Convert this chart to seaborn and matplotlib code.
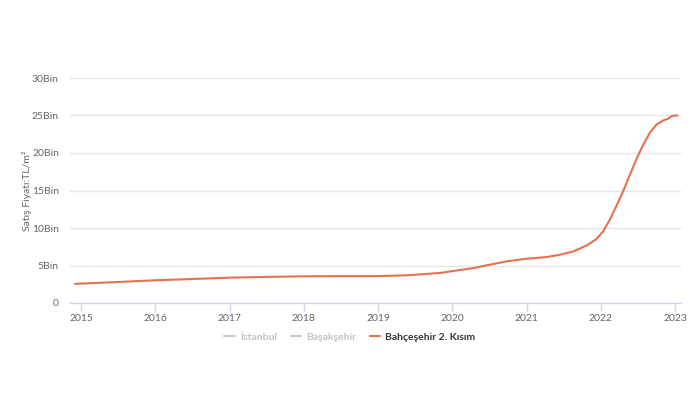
import matplotlib
matplotlib.use("Agg")
import matplotlib.pyplot as plt
from matplotlib.lines import Line2D
from matplotlib.ticker import FuncFormatter, FixedLocator
import seaborn as sns
import pandas as pd

# ---- data ----
years = [2014.92, 2015.5, 2016.0, 2016.5, 2017.0, 2017.5, 2018.0, 2018.5, 2019.0,
         2019.4, 2019.83, 2020.0, 2020.28, 2020.5, 2020.73, 2021.0, 2021.27, 2021.45,
         2021.63, 2021.81, 2021.94, 2022.03, 2022.12, 2022.21, 2022.30, 2022.39,
         2022.48, 2022.57, 2022.66, 2022.75, 2022.84, 2022.905, 2022.95, 2023.0, 2023.03]
prices = [2550, 2800, 3030, 3200, 3380, 3480, 3560, 3580, 3580,
          3700, 4000, 4250, 4650, 5100, 5550, 5900, 6130, 6440,
          6880, 7680, 8530, 9550, 11100, 12970, 14900, 17100,
          19200, 21100, 22700, 23800, 24350, 24570, 24900, 25000, 25000]
series_names = ["İstanbul", "Başakşehir", "Bahçeşehir 2. Kısım"]
x_ticks = [2015, 2016, 2017, 2018, 2019, 2020, 2021, 2022, 2023]
y_ticks = [0, 5000, 10000, 15000, 20000, 25000, 30000]
y_tick_labels = ["0", "5Bin", "10Bin", "15Bin", "20Bin", "25Bin", "30Bin"]
y_label = "Satış Fiyatı:TL/m²"

df = pd.DataFrame({"year": years, "price": prices})

sns.set_theme(style="white")
plt.rcParams["font.family"] = ["Lato", "DejaVu Sans"]

fig = plt.figure(figsize=(7, 4), dpi=100)
ax = fig.add_axes([0.1, 0.2425, 0.873, 0.5625])

line_color = "#e8704f"
sns.lineplot(data=df, x="year", y="price", ax=ax, color=line_color, linewidth=1.5)

ax.set_xlim(2014.852, 2023.08)
ax.set_ylim(0, 30000)
ax.yaxis.set_major_locator(FixedLocator(y_ticks))
ax.set_yticklabels(y_tick_labels)
ax.xaxis.set_major_locator(FixedLocator(x_ticks))
ax.xaxis.set_major_formatter(FuncFormatter(lambda v, p: f"{int(round(v))}"))

ax.grid(axis="y", color="#e6e6e6", linewidth=1)
ax.grid(axis="x", visible=False)
for s in ["top", "right", "left"]:
    ax.spines[s].set_visible(False)
ax.spines["bottom"].set_color("#ccd6eb")
ax.spines["bottom"].set_linewidth(1)

ax.tick_params(axis="x", bottom=True, length=6, width=1, color="#ccd6eb",
               labelsize=7.5, labelcolor="#666666", pad=2)
ax.tick_params(axis="y", left=False, length=0, labelsize=7.5, labelcolor="#666666", pad=8)

ax.set_xlabel("")
ax.set_ylabel(y_label, fontsize=7.5, color="#666666", labelpad=0)

handles = [Line2D([], [], color="#cccccc", linewidth=1.5),
           Line2D([], [], color="#cccccc", linewidth=1.5),
           Line2D([], [], color=line_color, linewidth=1.5)]
leg = fig.legend(handles, series_names, loc="center", bbox_to_anchor=(0.5, 0.157),
                 ncol=3, frameon=False, fontsize=7.5, handlelength=1.0,
                 handletextpad=0.5, columnspacing=1.3)
for i, t in enumerate(leg.get_texts()):
    t.set_fontweight("bold")
    t.set_color("#c4c4c4" if i < 2 else "#333333")

fig.savefig("out.png", dpi=100)
